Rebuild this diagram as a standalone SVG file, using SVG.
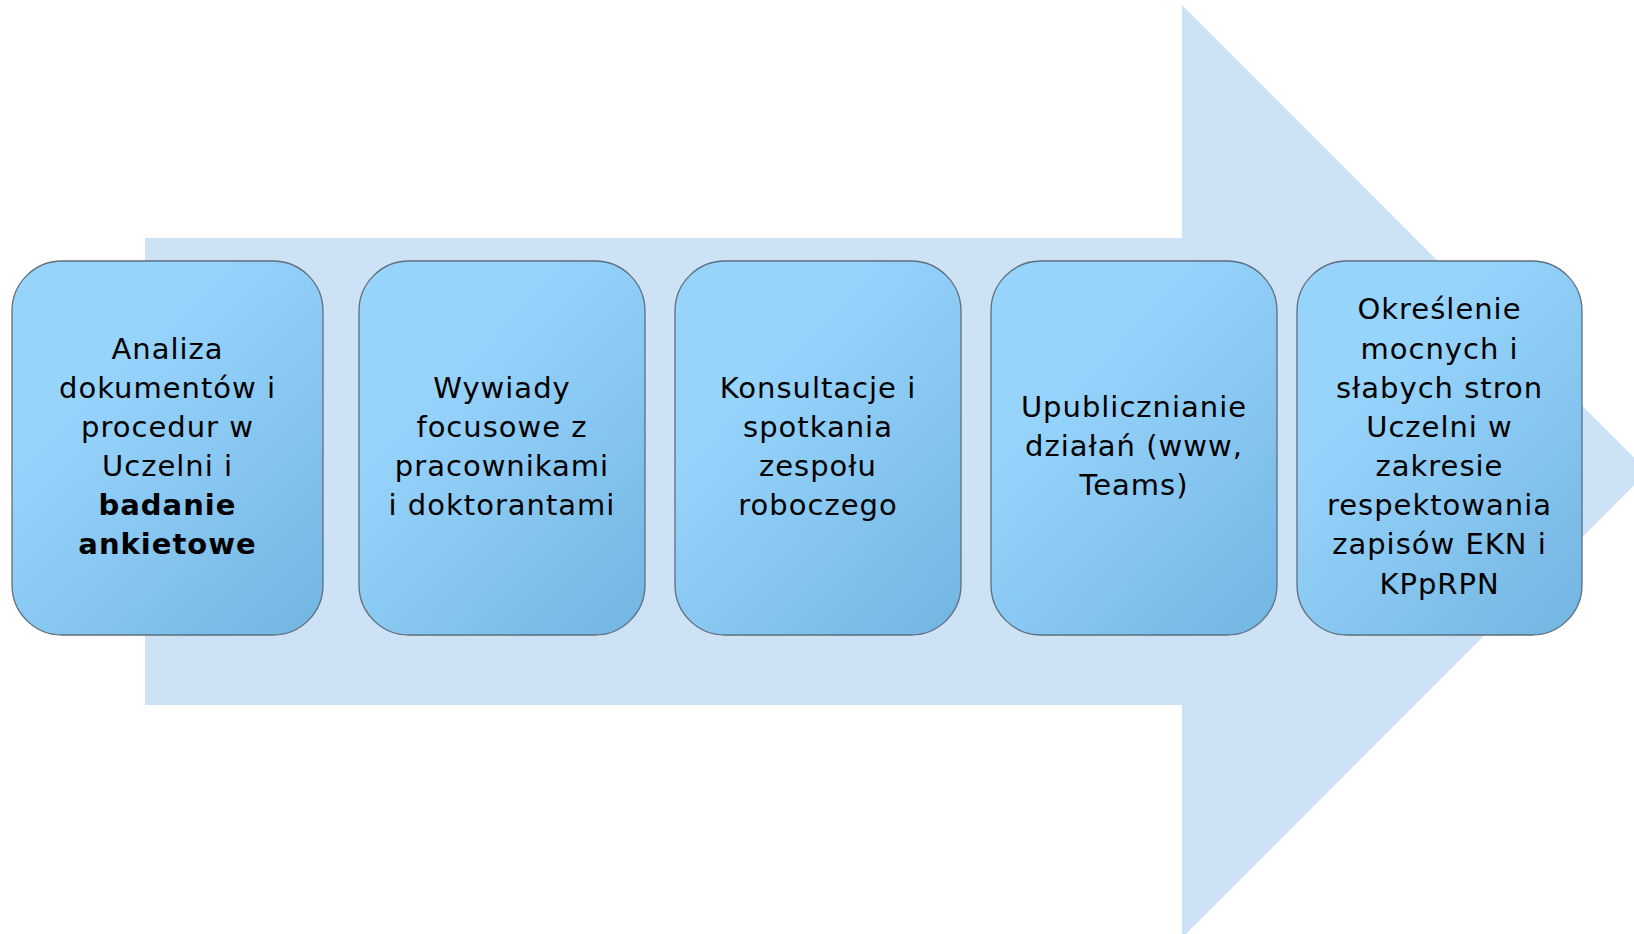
<svg xmlns="http://www.w3.org/2000/svg" width="1634" height="934" viewBox="0 0 1634 934">
<style>
.box{fill:url(#g);stroke:#5d6e7d;stroke-width:1.3}
.t{font-family:"DejaVu Sans","Liberation Sans",sans-serif;font-size:29px;letter-spacing:1px;fill:#000;text-anchor:middle}
.b{font-weight:bold}
</style>
<defs>
<linearGradient id="g" x1="0.35" y1="0.25" x2="0.95" y2="1">
<stop offset="0" stop-color="#97d4fc"/>
<stop offset="1" stop-color="#73b6e2"/>
</linearGradient>
</defs>
<rect width="1634" height="934" fill="#ffffff"/>
<polygon id="arrow" points="145,238 1182,238 1182,5 1648,471.5 1182,938 1182,705 145,705" fill="#cde3f5"/>
<g id="connectors"></g>
<g id="n1">
<rect class="box" x="12" y="261" width="311" height="374" rx="50" ry="50"/>
<text class="t"><tspan x="167.5" y="359">Analiza</tspan><tspan x="167.5" y="398">dokumentów i</tspan><tspan x="167.5" y="437">procedur w</tspan><tspan x="167.5" y="476">Uczelni i</tspan><tspan class="b" x="167.5" y="515">badanie</tspan><tspan class="b" x="167.5" y="554">ankietowe</tspan></text>
</g>
<g id="n2">
<rect class="box" x="359" y="261" width="286" height="374" rx="50" ry="50"/>
<text class="t"><tspan x="502" y="398">Wywiady</tspan><tspan x="502" y="437">focusowe z</tspan><tspan x="502" y="476">pracownikami</tspan><tspan x="502" y="515">i doktorantami</tspan></text>
</g>
<g id="n3">
<rect class="box" x="675" y="261" width="286" height="374" rx="50" ry="50"/>
<text class="t"><tspan x="818" y="398">Konsultacje i</tspan><tspan x="818" y="437">spotkania</tspan><tspan x="818" y="476">zespołu</tspan><tspan x="818" y="515">roboczego</tspan></text>
</g>
<g id="n4">
<rect class="box" x="991" y="261" width="286" height="374" rx="50" ry="50"/>
<text class="t"><tspan x="1134" y="417">Upublicznianie</tspan><tspan x="1134" y="456">działań (www,</tspan><tspan x="1134" y="495">Teams)</tspan></text>
</g>
<g id="n5">
<rect class="box" x="1297" y="261" width="285" height="374" rx="50" ry="50"/>
<text class="t"><tspan x="1439.5" y="319">Określenie</tspan><tspan x="1439.5" y="359">mocnych i</tspan><tspan x="1439.5" y="398">słabych stron</tspan><tspan x="1439.5" y="437">Uczelni w</tspan><tspan x="1439.5" y="476">zakresie</tspan><tspan x="1439.5" y="515">respektowania</tspan><tspan x="1439.5" y="554">zapisów EKN i</tspan><tspan x="1439.5" y="594">KPpRPN</tspan></text>
</g>
</svg>
